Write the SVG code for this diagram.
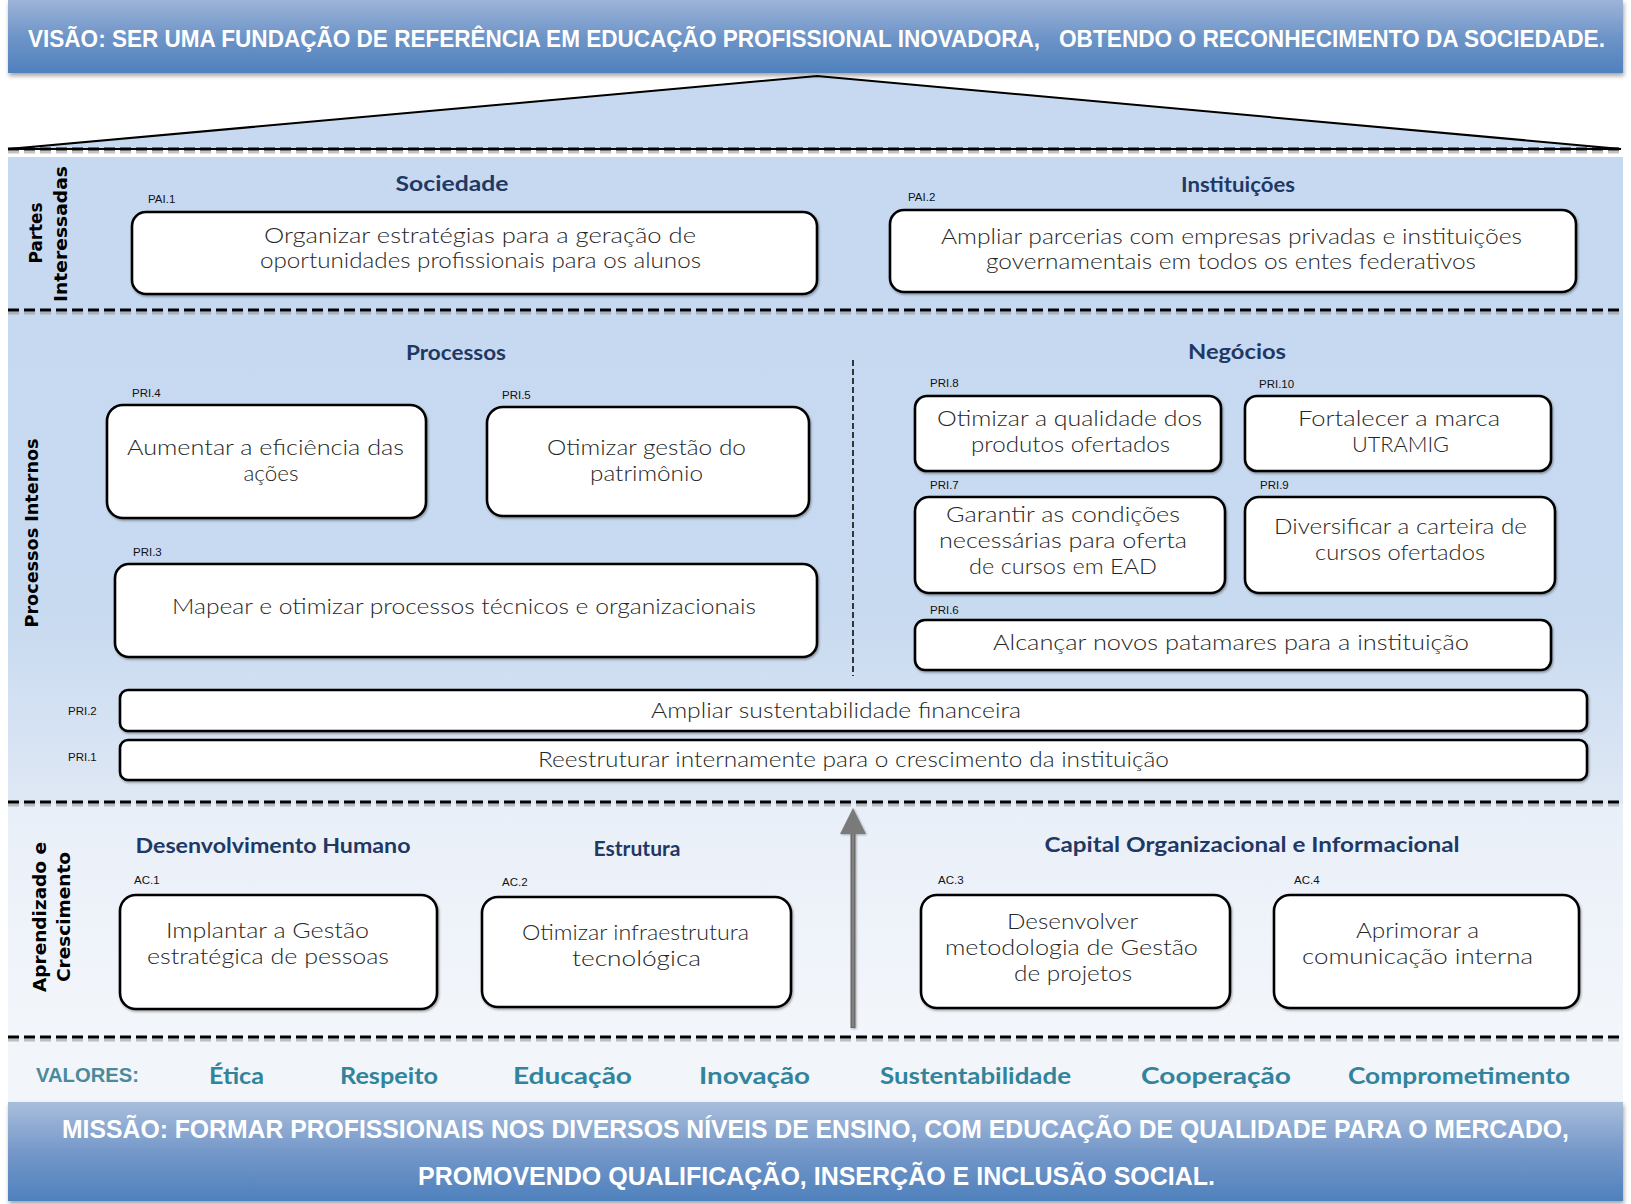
<svg xmlns="http://www.w3.org/2000/svg" width="1631" height="1204" viewBox="0 0 1631 1204">
<defs>
<linearGradient id="gTop" x1="0" y1="0" x2="0" y2="1"><stop offset="0" stop-color="#9db4d8"/><stop offset="0.5" stop-color="#6e95c8"/><stop offset="1" stop-color="#4f81bd"/></linearGradient>
<linearGradient id="gBot" x1="0" y1="0" x2="0" y2="1"><stop offset="0" stop-color="#a9bedc"/><stop offset="0.5" stop-color="#7598c9"/><stop offset="1" stop-color="#4f81bd"/></linearGradient>
<linearGradient id="gSec2" x1="0" y1="0" x2="0" y2="1"><stop offset="0" stop-color="#c6d9f1"/><stop offset="0.62" stop-color="#c8daf0"/><stop offset="1" stop-color="#dfe8f5"/></linearGradient>
<linearGradient id="gSec3" x1="0" y1="0" x2="0" y2="1"><stop offset="0" stop-color="#e9eff8"/><stop offset="1" stop-color="#f3f6fb"/></linearGradient>
<filter id="sh" x="-5%" y="-20%" width="110%" height="150%"><feDropShadow dx="1" dy="3" stdDeviation="2" flood-color="#000" flood-opacity="0.35"/></filter>
<filter id="bsh" x="-5%" y="-10%" width="110%" height="130%"><feDropShadow dx="1" dy="1.5" stdDeviation="1" flood-color="#000" flood-opacity="0.35"/></filter>
<filter id="ash" x="-100%" y="-5%" width="300%" height="110%"><feDropShadow dx="1" dy="1" stdDeviation="1" flood-color="#000" flood-opacity="0.3"/></filter>
</defs>
<style>
.box{fill:#fff;stroke:#000;stroke-width:2.6;filter:url(#bsh)}
.bt{font-family:Lato,"Liberation Sans",sans-serif;font-weight:300;font-size:21px;fill:#262626;text-anchor:middle}
.lab{font-family:"Liberation Sans",Arial,sans-serif;font-size:11.5px;fill:#111}
.hd{font-family:Lato,"DejaVu Sans",sans-serif;font-weight:700;font-size:20px;fill:#1f3864;text-anchor:middle}
.side{font-family:"DejaVu Sans",sans-serif;font-weight:700;font-size:18px;fill:#000;text-anchor:middle}
.val{font-family:Lato,"DejaVu Sans",sans-serif;font-weight:700;font-size:22px;fill:#31849b;text-anchor:middle}
.ban{font-family:"Liberation Sans",Arial,sans-serif;font-weight:700;fill:#fff}
.dash{stroke:#000;stroke-width:3.2;stroke-dasharray:11 5;fill:none}
.dsh{stroke:#888;stroke-width:3;stroke-dasharray:11 5;fill:none;opacity:0.5}
</style>
<rect width="1631" height="1204" fill="#fff"/>
<g id="backgrounds">
<polygon points="8,149 817,76 1621,149" fill="#c6d9f1" stroke="#000" stroke-width="2"/>
<rect x="8" y="157" width="1615" height="153" fill="#c6d9f1"/>
<rect x="8" y="310" width="1615" height="494" fill="url(#gSec2)"/>
<rect x="8" y="804" width="1615" height="232" fill="url(#gSec3)"/>
<rect x="8" y="1036" width="1615" height="66" fill="#f2f5fa"/>
</g>
<g id="separators">
<line class="dsh" x1="8" y1="152" x2="1623" y2="152"/>
<line class="dash" x1="8" y1="149" x2="1623" y2="149"/>
<line class="dsh" x1="8" y1="313" x2="1623" y2="313"/>
<line class="dash" x1="8" y1="310" x2="1623" y2="310"/>
<line class="dsh" x1="8" y1="805" x2="1623" y2="805"/>
<line class="dash" x1="8" y1="802" x2="1623" y2="802"/>
<line class="dsh" x1="8" y1="1040" x2="1623" y2="1040"/>
<line class="dash" x1="8" y1="1037" x2="1623" y2="1037"/>
<line x1="853" y1="360" x2="853" y2="676" stroke="#000" stroke-width="1.5" stroke-dasharray="6 3"/>
</g>
<g id="vision">
<rect x="8" y="0" width="1615" height="73" fill="url(#gTop)" filter="url(#sh)"/>
<text class="ban" transform="translate(28,47) scale(1,1.2)" font-size="20" textLength="1012" lengthAdjust="spacingAndGlyphs">VISÃO: SER UMA FUNDAÇÃO DE REFERÊNCIA EM EDUCAÇÃO PROFISSIONAL INOVADORA,</text>
<text class="ban" transform="translate(1059,47) scale(1,1.2)" font-size="20" textLength="546" lengthAdjust="spacingAndGlyphs">OBTENDO O RECONHECIMENTO DA SOCIEDADE.</text>
</g>
<g id="side-labels">
<text class="side" transform="translate(42,233) rotate(-90)" textLength="61" lengthAdjust="spacingAndGlyphs">Partes</text>
<text class="side" transform="translate(67,234) rotate(-90)" textLength="136" lengthAdjust="spacingAndGlyphs">Interessadas</text>
<text class="side" transform="translate(38,533) rotate(-90)" textLength="189" lengthAdjust="spacingAndGlyphs">Processos Internos</text>
<text class="side" transform="translate(46,917) rotate(-90)" textLength="150" lengthAdjust="spacingAndGlyphs">Aprendizado e</text>
<text class="side" transform="translate(70,917) rotate(-90)" textLength="130" lengthAdjust="spacingAndGlyphs">Crescimento</text>
</g>
<g id="headers">
<text class="hd" x="452" y="191" textLength="113" lengthAdjust="spacingAndGlyphs">Sociedade</text>
<text class="hd" x="1238" y="192" textLength="114" lengthAdjust="spacingAndGlyphs">Instituições</text>
<text class="hd" x="456" y="360" textLength="100" lengthAdjust="spacingAndGlyphs">Processos</text>
<text class="hd" x="1237" y="359" textLength="98" lengthAdjust="spacingAndGlyphs">Negócios</text>
<text class="hd" x="273" y="853" textLength="275" lengthAdjust="spacingAndGlyphs">Desenvolvimento Humano</text>
<text class="hd" x="637" y="856" textLength="87" lengthAdjust="spacingAndGlyphs">Estrutura</text>
<text class="hd" x="1252" y="852" textLength="415" lengthAdjust="spacingAndGlyphs">Capital Organizacional e Informacional</text>
</g>
<g id="connectors" filter="url(#ash)">
<line x1="853" y1="1028" x2="853" y2="830" stroke="#6b6b6b" stroke-width="5"/>
<line x1="853" y1="1027" x2="853" y2="832" stroke="#8a8a8a" stroke-width="1.5"/>
<polygon points="853,808 866,834 840,834" fill="#7a7a7a"/>
</g>
<g id="PAI1"><text class="lab" x="148" y="203">PAI.1</text><rect class="box" x="132" y="212" width="685" height="82" rx="14"/>
<text class="bt" x="480" y="243" textLength="432" lengthAdjust="spacingAndGlyphs">Organizar estratégias para a geração de</text>
<text class="bt" x="480.5" y="268" textLength="441" lengthAdjust="spacingAndGlyphs">oportunidades profissionais para os alunos</text></g>
<g id="PAI2"><text class="lab" x="908" y="201">PAI.2</text><rect class="box" x="890" y="210" width="686" height="82" rx="14"/>
<text class="bt" x="1231.5" y="244" textLength="581" lengthAdjust="spacingAndGlyphs">Ampliar parcerias com empresas privadas e instituições</text>
<text class="bt" x="1231" y="269" textLength="490" lengthAdjust="spacingAndGlyphs">governamentais em todos os entes federativos</text></g>
<g id="PRI4"><text class="lab" x="132" y="397">PRI.4</text><rect class="box" x="107" y="405" width="319" height="113" rx="16"/>
<text class="bt" x="265.5" y="455" textLength="277" lengthAdjust="spacingAndGlyphs">Aumentar a eficiência das</text>
<text class="bt" x="271" y="481" textLength="55" lengthAdjust="spacingAndGlyphs">ações</text></g>
<g id="PRI5"><text class="lab" x="502" y="399">PRI.5</text><rect class="box" x="487" y="407" width="322" height="109" rx="16"/>
<text class="bt" x="646.5" y="455" textLength="199" lengthAdjust="spacingAndGlyphs">Otimizar gestão do</text>
<text class="bt" x="646.5" y="481" textLength="113" lengthAdjust="spacingAndGlyphs">patrimônio</text></g>
<g id="PRI3"><text class="lab" x="133" y="556">PRI.3</text><rect class="box" x="115" y="564" width="702" height="93" rx="14"/>
<text class="bt" x="464" y="614" textLength="584" lengthAdjust="spacingAndGlyphs">Mapear e otimizar processos técnicos e organizacionais</text></g>
<g id="PRI8"><text class="lab" x="930" y="387">PRI.8</text><rect class="box" x="915" y="396" width="306" height="75" rx="12"/>
<text class="bt" x="1069.5" y="426" textLength="265" lengthAdjust="spacingAndGlyphs">Otimizar a qualidade dos</text>
<text class="bt" x="1070.5" y="452" textLength="199" lengthAdjust="spacingAndGlyphs">produtos ofertados</text></g>
<g id="PRI10"><text class="lab" x="1259" y="388">PRI.10</text><rect class="box" x="1245" y="396" width="306" height="75" rx="12"/>
<text class="bt" x="1399" y="426" textLength="202" lengthAdjust="spacingAndGlyphs">Fortalecer a marca</text>
<text class="bt" x="1400.5" y="452" textLength="97" lengthAdjust="spacingAndGlyphs">UTRAMIG</text></g>
<g id="PRI7"><text class="lab" x="930" y="489">PRI.7</text><rect class="box" x="915" y="497" width="310" height="96" rx="14"/>
<text class="bt" x="1063" y="522" textLength="234" lengthAdjust="spacingAndGlyphs">Garantir as condições</text>
<text class="bt" x="1063" y="548" textLength="248" lengthAdjust="spacingAndGlyphs">necessárias para oferta</text>
<text class="bt" x="1063" y="574" textLength="188" lengthAdjust="spacingAndGlyphs">de cursos em EAD</text></g>
<g id="PRI9"><text class="lab" x="1260" y="489">PRI.9</text><rect class="box" x="1245" y="497" width="310" height="96" rx="14"/>
<text class="bt" x="1400.5" y="534" textLength="253" lengthAdjust="spacingAndGlyphs">Diversificar a carteira de</text>
<text class="bt" x="1400" y="560" textLength="170" lengthAdjust="spacingAndGlyphs">cursos ofertados</text></g>
<g id="PRI6"><text class="lab" x="930" y="614">PRI.6</text><rect class="box" x="915" y="620" width="636" height="50" rx="10"/>
<text class="bt" x="1231" y="650" textLength="476" lengthAdjust="spacingAndGlyphs">Alcançar novos patamares para a instituição</text></g>
<g id="PRI2"><text class="lab" x="68" y="715">PRI.2</text><rect class="box" x="120" y="690" width="1467" height="41" rx="8"/>
<text class="bt" x="836" y="718" textLength="370" lengthAdjust="spacingAndGlyphs">Ampliar sustentabilidade financeira</text></g>
<g id="PRI1"><text class="lab" x="68" y="761">PRI.1</text><rect class="box" x="120" y="740" width="1467" height="40" rx="8"/>
<text class="bt" x="853.5" y="767" textLength="631" lengthAdjust="spacingAndGlyphs">Reestruturar internamente para o crescimento da instituição</text></g>
<g id="AC1"><text class="lab" x="134" y="884">AC.1</text><rect class="box" x="120" y="895" width="317" height="114" rx="16"/>
<text class="bt" x="267.5" y="938" textLength="203" lengthAdjust="spacingAndGlyphs">Implantar a Gestão</text>
<text class="bt" x="268" y="964" textLength="242" lengthAdjust="spacingAndGlyphs">estratégica de pessoas</text></g>
<g id="AC2"><text class="lab" x="502" y="886">AC.2</text><rect class="box" x="482" y="897" width="309" height="110" rx="16"/>
<text class="bt" x="635.5" y="940" textLength="227" lengthAdjust="spacingAndGlyphs">Otimizar infraestrutura</text>
<text class="bt" x="636.5" y="966" textLength="129" lengthAdjust="spacingAndGlyphs">tecnológica</text></g>
<g id="AC3"><text class="lab" x="938" y="884">AC.3</text><rect class="box" x="921" y="895" width="309" height="113" rx="16"/>
<text class="bt" x="1072.5" y="929" textLength="131" lengthAdjust="spacingAndGlyphs">Desenvolver</text>
<text class="bt" x="1071.5" y="955" textLength="253" lengthAdjust="spacingAndGlyphs">metodologia de Gestão</text>
<text class="bt" x="1073" y="981" textLength="118" lengthAdjust="spacingAndGlyphs">de projetos</text></g>
<g id="AC4"><text class="lab" x="1294" y="884">AC.4</text><rect class="box" x="1274" y="895" width="305" height="113" rx="16"/>
<text class="bt" x="1417.5" y="938" textLength="123" lengthAdjust="spacingAndGlyphs">Aprimorar a</text>
<text class="bt" x="1417.5" y="964" textLength="231" lengthAdjust="spacingAndGlyphs">comunicação interna</text></g>
<g id="valores">
<text x="36" y="1082" font-family="'Liberation Sans',Arial,sans-serif" font-weight="700" font-size="20" fill="#4a8a9c" textLength="103" lengthAdjust="spacingAndGlyphs">VALORES:</text>
<text class="val" x="236.5" y="1084" textLength="55" lengthAdjust="spacingAndGlyphs">Ética</text>
<text class="val" x="389" y="1084" textLength="98" lengthAdjust="spacingAndGlyphs">Respeito</text>
<text class="val" x="572.5" y="1084" textLength="119" lengthAdjust="spacingAndGlyphs">Educação</text>
<text class="val" x="754.5" y="1084" textLength="111" lengthAdjust="spacingAndGlyphs">Inovação</text>
<text class="val" x="975.5" y="1084" textLength="191" lengthAdjust="spacingAndGlyphs">Sustentabilidade</text>
<text class="val" x="1216" y="1084" textLength="150" lengthAdjust="spacingAndGlyphs">Cooperação</text>
<text class="val" x="1459" y="1084" textLength="222" lengthAdjust="spacingAndGlyphs">Comprometimento</text>
</g>
<g id="mission">
<rect x="8" y="1102" width="1615" height="99" fill="url(#gBot)" filter="url(#sh)"/>
<text class="ban" transform="translate(62,1138) scale(1,1.19)" font-size="21" textLength="1507" lengthAdjust="spacingAndGlyphs">MISSÃO: FORMAR PROFISSIONAIS NOS DIVERSOS NÍVEIS DE ENSINO, COM EDUCAÇÃO DE QUALIDADE PARA O MERCADO,</text>
<text class="ban" transform="translate(418,1185) scale(1,1.19)" font-size="21" textLength="797" lengthAdjust="spacingAndGlyphs">PROMOVENDO QUALIFICAÇÃO, INSERÇÃO E INCLUSÃO SOCIAL.</text>
</g>
</svg>
